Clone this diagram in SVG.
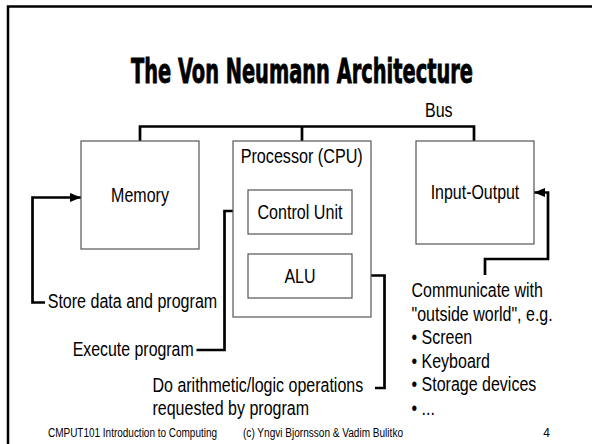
<svg xmlns="http://www.w3.org/2000/svg" width="592" height="444" viewBox="0 0 592 444">
<style>
  .box { fill: #ffffff; stroke: #555555; stroke-width: 1.2; }
  .wire { fill: none; stroke: #000000; stroke-width: 2.7; stroke-linejoin: miter; }
  .lbl { font-family: "Liberation Sans", Arial, sans-serif; font-size: 19.5px; fill: #000000; }
  .foot { font-family: "Liberation Sans", Arial, sans-serif; font-size: 12px; fill: #000000; }
  .title { font-family: "DejaVu Sans Condensed", "DejaVu Sans", sans-serif; font-stretch: condensed; font-weight: bold; font-size: 20px; fill: #000000; stroke: #000000; stroke-width: 0.5; }
</style>
<defs>
  <marker id="arr" markerUnits="userSpaceOnUse" markerWidth="12" markerHeight="10" refX="11" refY="5" orient="auto">
    <path d="M0,0.5 L11,5 L0,9.5 Z" fill="#000000"/>
  </marker>
</defs>
<rect id="frame" x="8" y="6.5" width="600" height="450" fill="none" stroke="#000000" stroke-width="2.5"/>
<g id="title">
  <text class="title" transform="translate(131,83) scale(1,1.65)" x="0" y="0" textLength="342" lengthAdjust="spacingAndGlyphs">The Von Neumann Architecture</text>
</g>
<g id="connectors">
  <path class="wire" d="M140,141 V126.5 H474 V141 M302,126.5 V141"/>
  <text class="lbl" x="425" y="116.5" textLength="27.6" lengthAdjust="spacingAndGlyphs">Bus</text>
  <path class="wire" d="M45,302.5 H32.5 V197.5 H81" marker-end="url(#arr)"/>
  <path class="wire" d="M196.5,350 H224.5 V211 H248" marker-end="url(#arr)"/>
  <path class="wire" d="M375,388 H384.5 V275.5 H352" marker-end="url(#arr)"/>
  <path class="wire" d="M485,275 V259 H548 V192.5 H534" marker-end="url(#arr)"/>
</g>
<g id="memory">
  <rect class="box" x="81" y="141" width="118" height="108"/>
  <text class="lbl" x="140" y="202" text-anchor="middle" textLength="57.8" lengthAdjust="spacingAndGlyphs">Memory</text>
</g>
<g id="processor">
  <rect class="box" x="233" y="141" width="138" height="176"/>
  <text class="lbl" x="240.7" y="163" textLength="122" lengthAdjust="spacingAndGlyphs">Processor (CPU)</text>
</g>
<g id="control-unit">
  <rect class="box" x="248" y="190" width="104" height="44"/>
  <text class="lbl" x="300" y="219" text-anchor="middle" textLength="85" lengthAdjust="spacingAndGlyphs">Control Unit</text>
</g>
<g id="alu">
  <rect class="box" x="248" y="254" width="104" height="44"/>
  <text class="lbl" x="300" y="283" text-anchor="middle" textLength="31.1" lengthAdjust="spacingAndGlyphs">ALU</text>
</g>
<g id="input-output">
  <rect class="box" x="416" y="141" width="118" height="103"/>
  <text class="lbl" x="475" y="199" text-anchor="middle" textLength="88.6" lengthAdjust="spacingAndGlyphs">Input-Output</text>
</g>
<g id="note-store">
  <text class="lbl" x="47.7" y="308" textLength="169.5" lengthAdjust="spacingAndGlyphs">Store data and program</text>
</g>
<g id="note-execute">
  <text class="lbl" x="72.7" y="356" textLength="121" lengthAdjust="spacingAndGlyphs">Execute program</text>
</g>
<g id="note-alu">
  <text class="lbl" x="152.5" y="392" textLength="210.7" lengthAdjust="spacingAndGlyphs">Do arithmetic/logic operations</text>
  <text class="lbl" x="152.5" y="415" textLength="156.5" lengthAdjust="spacingAndGlyphs">requested by program</text>
</g>
<g id="note-io">
  <text class="lbl" x="411.5" y="297" textLength="131.3" lengthAdjust="spacingAndGlyphs">Communicate with</text>
  <text class="lbl" x="411.5" y="320.5" textLength="141.2" lengthAdjust="spacingAndGlyphs">"outside world", e.g.</text>
  <text class="lbl" x="411.5" y="344" textLength="60.7" lengthAdjust="spacingAndGlyphs">• Screen</text>
  <text class="lbl" x="411.5" y="367.5" textLength="78.5" lengthAdjust="spacingAndGlyphs">• Keyboard</text>
  <text class="lbl" x="411.5" y="391" textLength="124.8" lengthAdjust="spacingAndGlyphs">• Storage devices</text>
  <text class="lbl" x="411.5" y="414.5" textLength="23.4" lengthAdjust="spacingAndGlyphs">• ...</text>
</g>
<g id="footer">
  <text class="foot" x="48" y="437" textLength="169" lengthAdjust="spacingAndGlyphs">CMPUT101 Introduction to Computing</text>
  <text class="foot" x="243" y="437" textLength="160" lengthAdjust="spacingAndGlyphs">(c) Yngvi Bjornsson &amp; Vadim Bulitko</text>
  <text class="foot" x="550" y="437" text-anchor="end">4</text>
</g>
</svg>
